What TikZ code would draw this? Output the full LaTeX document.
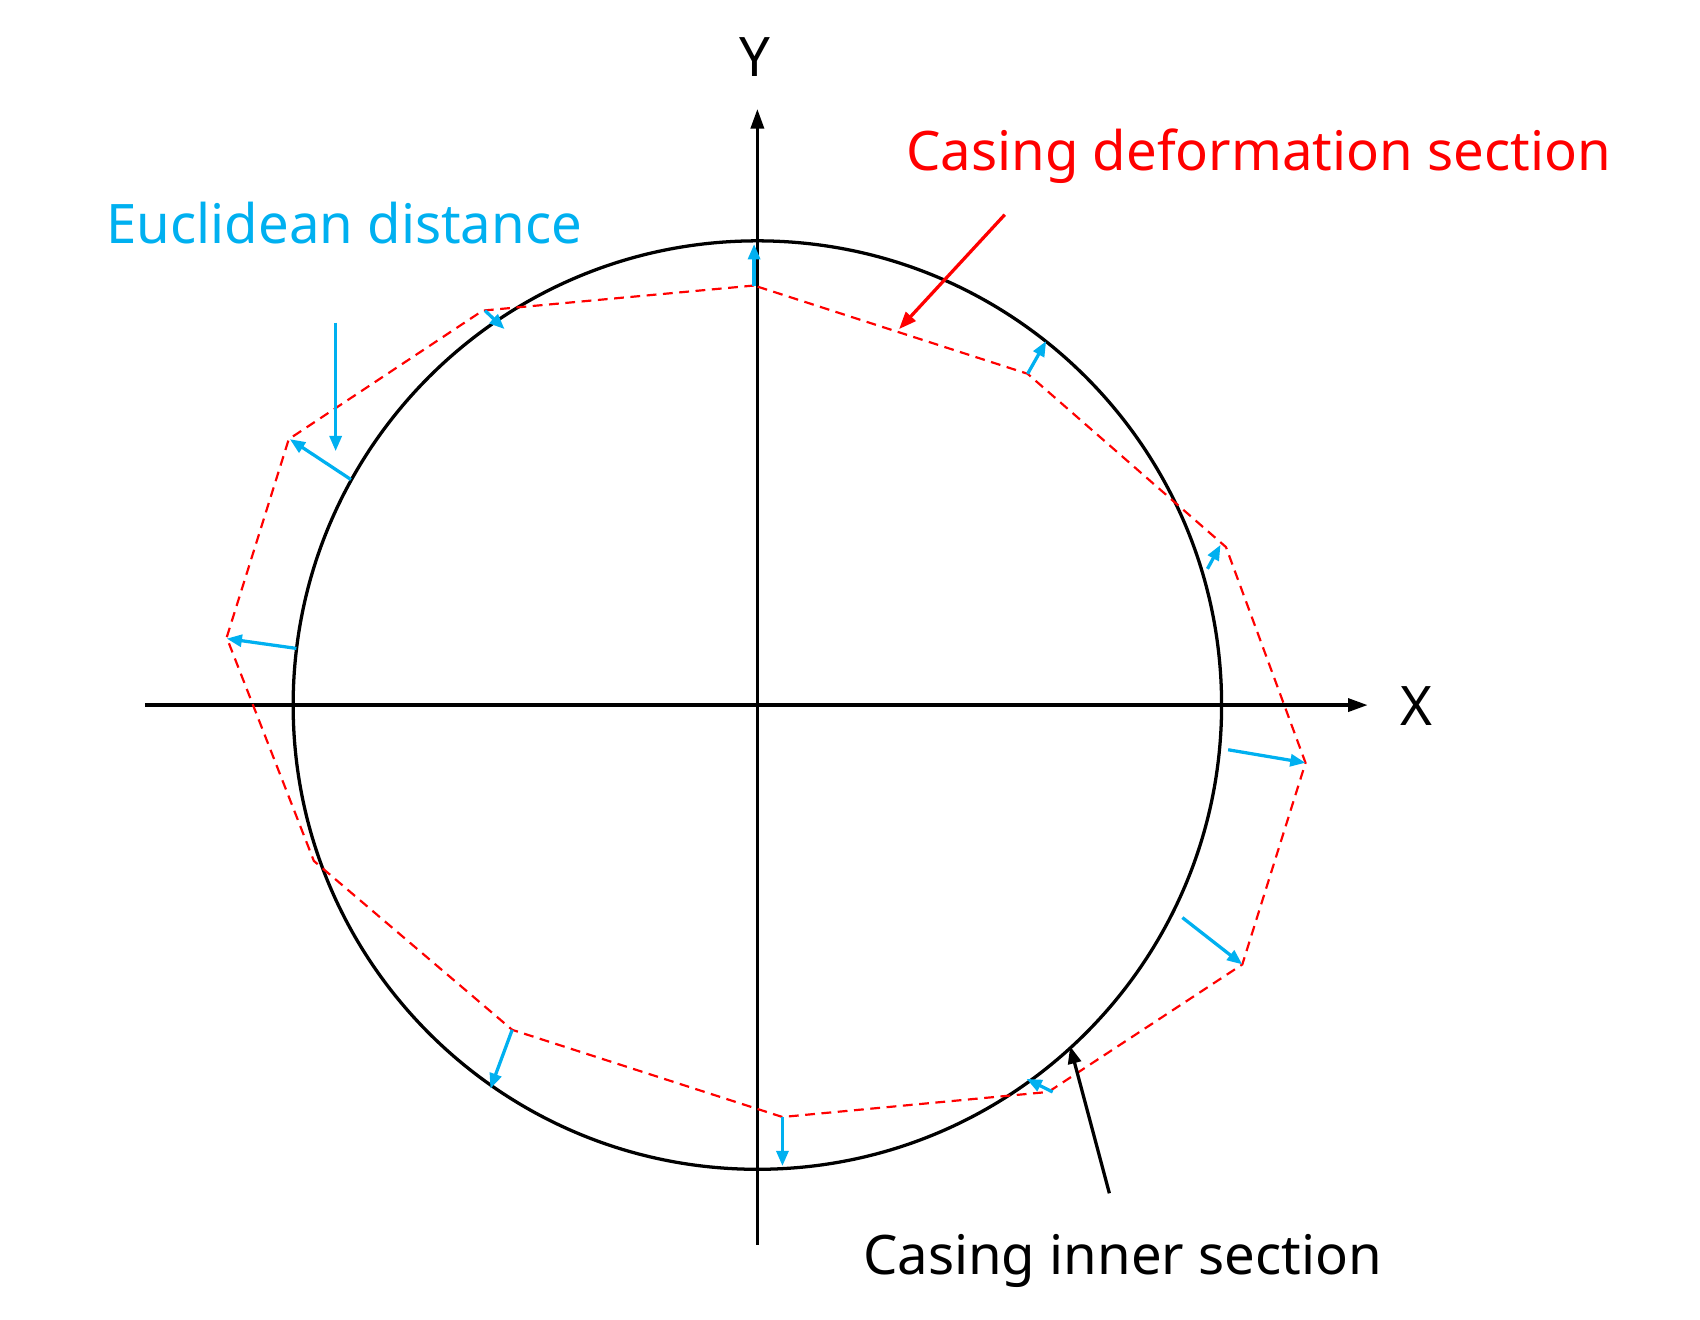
\documentclass[tikz,border=0pt]{standalone}
\usepackage{fontspec}
\setmainfont{Noto Sans}
\usetikzlibrary{arrows.meta}
\definecolor{cy}{RGB}{0,176,240}
\begin{document}
\begin{tikzpicture}[x=1pt,y=-1pt,
  axis/.style={line width=3pt,-{Triangle[length=18pt,width=12pt]}},
  ed/.style={cy,line width=3pt,-{Triangle[length=14pt,width=11pt]}},
  lbl/.style={font=\fontsize{50}{56}\selectfont,inner sep=0pt}]
\useasboundingbox (0,0) rectangle (1560,1211);
\draw[line width=3pt] (695,647) circle[radius=426];
\coordinate (xs) at (133,647); \coordinate (xe) at (1255,647);
\coordinate (ys) at (695,1142); \coordinate (ye) at (695,100);
\draw[axis] (xs) -- (xe);
\draw[axis] (ys) -- (ye);
\draw[red,dashed,line width=2pt,dash pattern=on 9pt off 6pt]
 (692,262) -- (443,285) -- (265,403) -- (208,585) -- (288,790) -- (470,945) -- (718,1025) -- (962,1002) -- (1140,885) -- (1198,700) -- (1125,502) -- (943,343) -- cycle;
\draw[ed] (692,262) -- (692,224);
\draw[ed] (445,285) -- (463,302);
\draw[ed] (322,440) -- (266,403);
\draw[ed] (272,595) -- (208,586);
\draw[ed] (470,945) -- (450,999);
\draw[ed] (718,1025) -- (718,1070);
\draw[ed] (966,1002) -- (942,990);
\draw[ed] (1085,842) -- (1140,885);
\draw[ed] (1127,688) -- (1198,700);
\draw[ed] (1108,522) -- (1120,500);
\draw[ed] (943,343) -- (960,313);
\draw[ed] (308,296) -- (308,414);
\draw[red,line width=3pt,-{Triangle[length=16pt,width=12pt]}] (922,197) -- (825,302);
\draw[line width=3pt,-{Triangle[length=16pt,width=12pt]}] (1018,1095) -- (982,960);
\node[lbl] (Y) at (693,52) {Y};
\node[lbl] (X) at (1300,648) {X};
\node[lbl,red] (cds) at (1155,143) {Casing deformation section};
\node[lbl,cy] (ed) at (316,205) {Euclidean distance};
\node[lbl] (cis) at (1030,1157) {Casing inner section};
\end{tikzpicture}
\end{document}
